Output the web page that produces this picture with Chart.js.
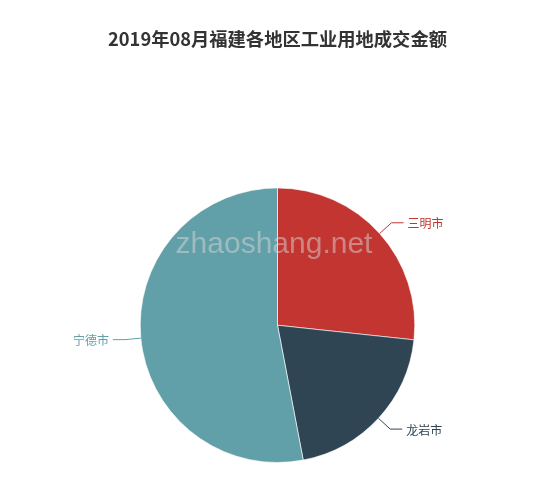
<!DOCTYPE html>
<html>
<head>
<meta charset="utf-8">
<script src="https://cdn.jsdelivr.net/npm/chart.js@4.4.0/dist/chart.umd.min.js"></script>
<style>
  html, body { margin: 0; padding: 0; background: #fff; }
  #wrap { width: 550px; height: 490px; }
</style>
</head>
<body>
<div id="wrap"><canvas id="chartPie"></canvas></div>
<script>
var labels = ['三明市', '龙岩市', '宁德市'];
var values = [26.7, 20.3, 53.0];
var colors = ['#c23531', '#2f4554', '#61a0a8'];

var ctx = document.getElementById('chartPie').getContext('2d');

// leader lines + labels outside the slices
var outerLabels = {
    id: 'outerLabels',
    afterDatasetsDraw: function (chart) {
        var c = chart.ctx;
        var meta = chart.getDatasetMeta(0);
        meta.data.forEach(function (arc, i) {
            var mid = (arc.startAngle + arc.endAngle) / 2;
            var r = arc.outerRadius;
            var cos = Math.cos(mid), sin = Math.sin(mid);
            var x0 = arc.x + cos * r, y0 = arc.y + sin * r;
            var x1 = arc.x + cos * (r + 16), y1 = arc.y + sin * (r + 16);
            var dir = cos >= 0 ? 1 : -1;
            var x2 = x1 + dir * 12;
            c.save();
            c.strokeStyle = colors[i];
            c.lineWidth = 1;
            c.beginPath();
            c.moveTo(x0, y0);
            c.lineTo(x1, y1);
            c.lineTo(x2, y1);
            c.stroke();
            c.fillStyle = colors[i];
            c.font = '12px "Noto Sans CJK SC", sans-serif';
            c.textBaseline = 'middle';
            c.textAlign = dir > 0 ? 'left' : 'right';
            c.fillText(labels[i], x2 + dir * 4, y1 + 1);
            c.restore();
        });
    }
};

// site watermark over the pie
var watermark = {
    id: 'watermark',
    afterDraw: function (chart) {
        var c = chart.ctx;
        c.save();
        c.fillStyle = 'rgba(215,215,215,0.5)';
        c.font = '30px "Liberation Sans", Arial, sans-serif';
        c.textAlign = 'center';
        c.textBaseline = 'alphabetic';
        c.fillText('zhaoshang.net', 274, 253);
        c.restore();
    }
};

var myChart = new Chart(ctx, {
    type: 'pie',
    data: {
        labels: labels,
        datasets: [{
            data: values,
            backgroundColor: colors,
            borderColor: 'rgba(255,255,255,0.6)',
            borderWidth: 1,
            hoverOffset: 0
        }]
    },
    options: {
        responsive: true,
        maintainAspectRatio: false,
        animation: false,
        layout: { padding: { top: 0, left: 5, right: 0, bottom: 27 } },
        plugins: {
            legend: { display: false },
            title: {
                display: true,
                text: '2019年08月福建各地区工业用地成交金额',
                color: '#333',
                font: { size: 18.3, weight: 'bold', family: '"Noto Sans CJK SC", sans-serif', lineHeight: 1.2 },
                padding: { top: 28.5, bottom: 137 }
            }
        }
    },
    plugins: [outerLabels, watermark]
});
</script>
</body>
</html>
